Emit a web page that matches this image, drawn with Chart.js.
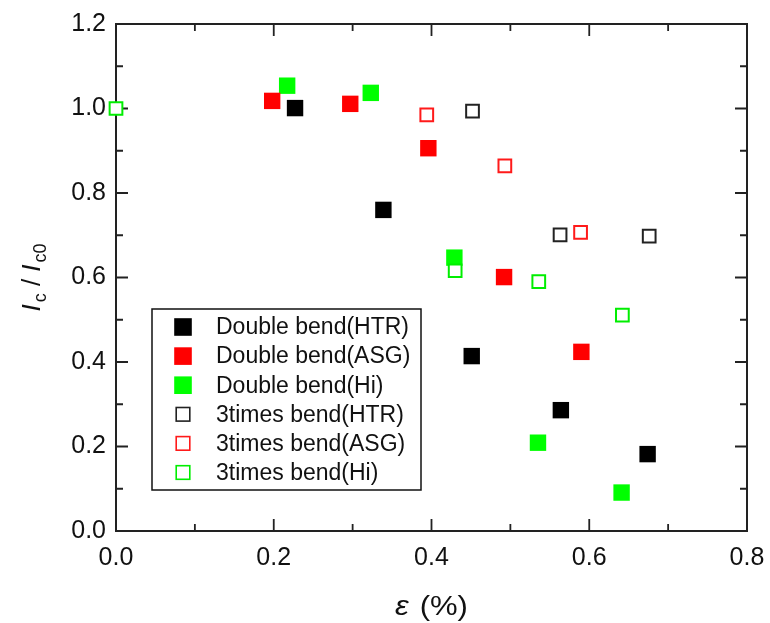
<!DOCTYPE html>
<html>
<head>
<meta charset="utf-8">
<script src="https://cdn.jsdelivr.net/npm/chart.js@4.4.0/dist/chart.umd.min.js"></script>
<style>
html, body { margin: 0; padding: 0; background: #fff; }
</style>
</head>
<body>
<canvas id="myChartCanvas" width="770" height="623"></canvas>
<script>
// series: strain (%) vs normalised Ic
let seriesNames = ['Double bend(HTR)', 'Double bend(ASG)', 'Double bend(Hi)',
                   '3times bend(HTR)', '3times bend(ASG)', '3times bend(Hi)'];

let doubleHtrX = [0.227, 0.339, 0.451, 0.564, 0.674];
let doubleHtrY = [1.001, 0.760, 0.414, 0.286, 0.182];
let doubleAsgX = [0.198, 0.297, 0.396, 0.492, 0.590];
let doubleAsgY = [1.018, 1.011, 0.906, 0.601, 0.424];
let doubleHiX = [0.217, 0.323, 0.429, 0.535, 0.641];
let doubleHiY = [1.054, 1.037, 0.647, 0.209, 0.091];

let tripleHtrX = [0.452, 0.563, 0.676];
let tripleHtrY = [0.994, 0.701, 0.698];
let tripleAsgX = [0.394, 0.493, 0.589];
let tripleAsgY = [0.985, 0.864, 0.707];
let tripleHiX = [0.000, 0.430, 0.536, 0.642];
let tripleHiY = [1.000, 0.616, 0.590, 0.511];

let xMajorTicks = [0, 0.2, 0.4, 0.6, 0.8];
let xMinorTicks = [0.1, 0.3, 0.5, 0.7];
let yMajorTicks = [0, 0.2, 0.4, 0.6, 0.8, 1.0, 1.2];
let yMinorTicks = [0.1, 0.3, 0.5, 0.7, 0.9, 1.1];

const FONT = '"Liberation Sans", Arial, sans-serif';
const AXIS_COLOR = '#222';

function toPoints(xs, ys) {
    let pts = [];
    for (let i = 0; i < xs.length; i++) {
        pts.push({ x: xs[i], y: ys[i] });
    }
    return pts;
}

function filledSet(label, xs, ys, color) {
    return {
        label: label,
        data: toPoints(xs, ys),
        pointStyle: 'rect',
        pointRadius: 11.6,
        pointHoverRadius: 11.6,
        backgroundColor: color,
        borderColor: color,
        borderWidth: 0,
        showLine: false,
        clip: false,
        order: 1,
        legendFilled: true
    };
}

function openSet(label, xs, ys, color) {
    return {
        label: label,
        data: toPoints(xs, ys),
        pointStyle: 'rect',
        pointRadius: 9,
        pointHoverRadius: 9,
        backgroundColor: '#ffffff',
        borderColor: color,
        borderWidth: 2,
        showLine: false,
        clip: false,
        order: 0,
        legendFilled: false
    };
}

// frame round the plot with inward ticks on all four sides
const frameTicks = {
    id: 'frameTicks',
    beforeDatasetsDraw(chart) {
        let c = chart.ctx;
        let a = chart.chartArea;
        let xs = chart.scales.x, ys = chart.scales.y;
        c.save();
        c.strokeStyle = AXIS_COLOR;
        c.lineWidth = 2;
        c.strokeRect(a.left, a.top, a.right - a.left, a.bottom - a.top);
        c.lineWidth = 1.8;
        c.beginPath();
        xMajorTicks.concat(xMinorTicks).forEach(function (v) {
            let len = xMajorTicks.includes(v) ? 12 : 7;
            let px = xs.getPixelForValue(v);
            c.moveTo(px, a.bottom); c.lineTo(px, a.bottom - len);
            c.moveTo(px, a.top); c.lineTo(px, a.top + len);
        });
        yMajorTicks.concat(yMinorTicks).forEach(function (v) {
            let len = yMajorTicks.includes(v) ? 12 : 7;
            let py = ys.getPixelForValue(v);
            c.moveTo(a.left, py); c.lineTo(a.left + len, py);
            c.moveTo(a.right, py); c.lineTo(a.right - len, py);
        });
        c.stroke();
        c.restore();
    }
};

function drawPieces(c, pieces, startX, baseY) {
    let x = startX;
    pieces.forEach(function (p) {
        c.font = p.font;
        c.fillText(p.t, x, baseY + (p.dy || 0));
        x += c.measureText(p.t).width + (p.gap || 0);
    });
}

function piecesWidth(c, pieces) {
    let w = 0;
    pieces.forEach(function (p) {
        c.font = p.font;
        w += c.measureText(p.t).width + (p.gap || 0);
    });
    return w;
}

// axis titles with italics / subscripts, and the boxed legend
const titlesLegend = {
    id: 'titlesLegend',
    afterDraw(chart) {
        let c = chart.ctx;
        let a = chart.chartArea;
        c.save();
        c.fillStyle = '#111';
        c.textBaseline = 'alphabetic';
        c.textAlign = 'left';

        // y title
        let big = '26px ' + FONT, bigIt = 'italic 26px ' + FONT, sub = '18px ' + FONT;
        let yPieces = [
            { t: 'I', font: bigIt, gap: 2 },
            { t: 'c', font: sub, dy: 6 },
            { t: ' / ', font: big },
            { t: 'I', font: bigIt, gap: 2 },
            { t: 'c0', font: sub, dy: 6 }
        ];
        c.save();
        c.translate(40, (a.top + a.bottom) / 2);
        c.rotate(-Math.PI / 2);
        drawPieces(c, yPieces, -piecesWidth(c, yPieces) / 2, 0);
        c.restore();

        // x title, slightly widened like the source image
        let xPieces = [
            { t: '\u03B5', font: 'italic 27px ' + FONT, gap: 2 },
            { t: ' (%)', font: '27px ' + FONT }
        ];
        let cx = (a.left + a.right) / 2;
        c.save();
        c.translate(cx, 615);
        c.scale(1.15, 1);
        drawPieces(c, xPieces, -piecesWidth(c, xPieces) / 2, 0);
        c.restore();

        // legend
        let boxL = 152, boxT = 309, boxW = 269, boxH = 181;
        c.fillStyle = '#fff';
        c.fillRect(boxL, boxT, boxW, boxH);
        c.strokeStyle = '#111';
        c.lineWidth = 1.5;
        c.strokeRect(boxL, boxT, boxW, boxH);

        c.font = '23px ' + FONT;
        c.textBaseline = 'middle';
        chart.data.datasets.forEach(function (ds, i) {
            let rowY = 327 + i * 29.1;
            let mx = 183;
            if (ds.legendFilled) {
                c.fillStyle = ds.backgroundColor;
                c.fillRect(mx - 8.8, rowY - 8.8, 17.6, 17.6);
            } else {
                c.strokeStyle = ds.borderColor;
                c.lineWidth = 1.6;
                c.strokeRect(mx - 6.8, rowY - 6.8, 13.6, 13.6);
            }
            c.fillStyle = '#111';
            c.fillText(ds.label, 216, rowY + 1);
        });
        c.restore();
    }
};

let ctx = document.getElementById('myChartCanvas').getContext('2d');
let chart = new Chart(ctx, {
    type: 'scatter',
    data: {
        datasets: [
            filledSet(seriesNames[0], doubleHtrX, doubleHtrY, '#000000'),
            filledSet(seriesNames[1], doubleAsgX, doubleAsgY, '#ff0000'),
            filledSet(seriesNames[2], doubleHiX, doubleHiY, '#00ff00'),
            openSet(seriesNames[3], tripleHtrX, tripleHtrY, '#222222'),
            openSet(seriesNames[4], tripleAsgX, tripleAsgY, '#ff1a1a'),
            openSet(seriesNames[5], tripleHiX, tripleHiY, '#00ee00')
        ]
    },
    options: {
        responsive: false,
        animation: false,
        layout: {
            padding: { left: 0, right: 23, top: 24, bottom: 0 }
        },
        plugins: {
            legend: { display: false },
            tooltip: { enabled: false }
        },
        scales: {
            x: {
                type: 'linear',
                min: 0,
                max: 0.8,
                afterFit: function (scale) {
                    scale.height = 92;
                    scale.paddingLeft = 0;
                    scale.paddingRight = 0;
                },
                afterBuildTicks: function (scale) {
                    scale.ticks = xMajorTicks.map(function (v) { return { value: v }; });
                },
                grid: { display: false, drawTicks: false },
                border: { display: false },
                ticks: {
                    padding: 12,
                    color: '#111',
                    font: { family: FONT, size: 25 },
                    callback: function (v) { return v.toFixed(1); }
                }
            },
            y: {
                type: 'linear',
                min: 0,
                max: 1.2,
                afterFit: function (scale) {
                    scale.width = 116;
                    scale.paddingTop = 0;
                    scale.paddingBottom = 0;
                },
                afterBuildTicks: function (scale) {
                    scale.ticks = yMajorTicks.map(function (v) { return { value: v }; });
                },
                grid: { display: false, drawTicks: false },
                border: { display: false },
                ticks: {
                    padding: 10,
                    color: '#111',
                    font: { family: FONT, size: 25 },
                    callback: function (v) { return v.toFixed(1); }
                }
            }
        }
    },
    plugins: [frameTicks, titlesLegend]
});
</script>
</body>
</html>
